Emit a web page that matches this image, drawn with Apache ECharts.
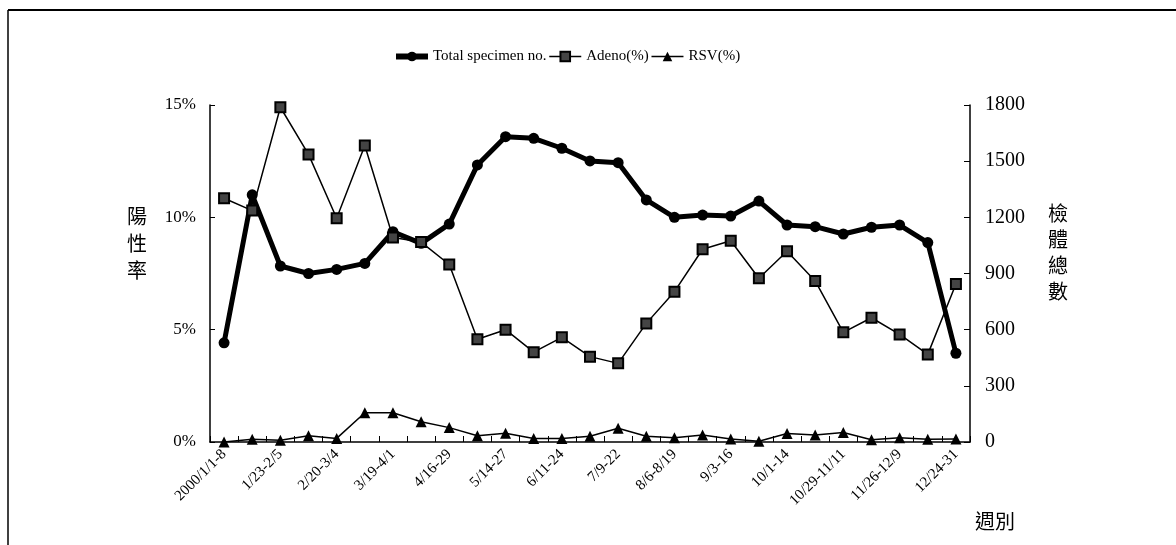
<!DOCTYPE html>
<html>
<head>
<meta charset="utf-8">
<script src="https://cdn.jsdelivr.net/npm/echarts@6/dist/echarts.min.js"></script>
<style>
html,body{margin:0;padding:0;background:#fff;}
#chart{width:1176px;height:545px;}
</style>
</head>
<body>
<div id="chart"></div>
<script>
var categories = ['2000/1/1-8','1/9-22','1/23-2/5','2/6-19','2/20-3/4','3/5-18','3/19-4/1','4/2-15','4/16-29','4/30-5/13','5/14-27','5/28-6/10','6/11-24','6/25-7/8','7/9-22','7/23-8/5','8/6-8/19','8/20-9/2','9/3-16','9/17-30','10/1-14','10/15-28','10/29-11/11','11/12-25','11/26-12/9','12/10-23','12/24-31'];
var totalSpecimen = [530,1320,940,900,922,954,1123,1061,1164,1480,1631,1622,1569,1501,1492,1293,1200,1212,1207,1287,1159,1150,1111,1147,1159,1065,474];
var adenoPct = [10.85,10.3,14.9,12.8,9.96,13.2,9.1,8.9,7.9,4.57,5.0,4.0,4.66,3.8,3.5,5.28,6.69,8.58,8.96,7.29,8.49,7.17,4.88,5.53,4.79,3.9,7.03];
var rsvPct = [0,0.12,0.08,0.28,0.16,1.3,1.3,0.9,0.64,0.28,0.39,0.16,0.16,0.26,0.61,0.26,0.19,0.31,0.13,0.03,0.38,0.31,0.42,0.1,0.19,0.12,0.13];
var leftTicks = [0,5,10,15];
var rightTicks = [0,300,600,900,1200,1500,1800];

var serif = '"Liberation Serif","Times New Roman",serif';
var cjk = '"Noto Sans CJK TC","Noto Sans CJK SC",sans-serif';

var chart = echarts.init(document.getElementById('chart'), null, {renderer:'canvas'});
chart.setOption({
  backgroundColor:'#fff',
  animation:false,
  legend:{
    left:388, top:44,
    itemWidth:32, itemHeight:12, itemGap:2,
    textStyle:{fontFamily:serif, fontSize:15, color:'#000'},
    data:[
      {name:'Total specimen no.', itemStyle:{color:'#000'}, lineStyle:{width:6, color:'#000'}},
      {name:'Adeno(%)', lineStyle:{width:1.5, color:'#000'}},
      {name:'RSV(%)', lineStyle:{width:1.5, color:'#000'}}
    ]
  },
  grid:{left:210, right:206, top:105, bottom:103, containLabel:false},
  xAxis:{
    type:'category',
    data:categories,
    boundaryGap:true,
    axisLine:{lineStyle:{color:'#000', width:1.5}},
    axisTick:{show:true, inside:true, length:6, interval:0, lineStyle:{color:'#000'}},
    axisLabel:{rotate:45, interval:1, margin:10, color:'#000', fontFamily:serif, fontSize:15},
    splitLine:{show:false}
  },
  yAxis:[
    {
      type:'value', min:leftTicks[0], max:leftTicks[leftTicks.length-1], interval:5,
      position:'left',
      axisLine:{show:true, lineStyle:{color:'#000', width:1.5}},
      axisTick:{show:true, inside:true, length:5, lineStyle:{color:'#000'}},
      axisLabel:{formatter:'{value}%', color:'#000', fontFamily:serif, fontSize:17, margin:14},
      splitLine:{show:false}
    },
    {
      type:'value', min:rightTicks[0], max:rightTicks[rightTicks.length-1], interval:300,
      position:'right',
      axisLine:{show:true, lineStyle:{color:'#000', width:1.5}},
      axisTick:{show:true, inside:true, length:6, lineStyle:{color:'#000'}},
      axisLabel:{formatter:function(v){return String(v);}, color:'#000', fontFamily:serif, fontSize:20, margin:15},
      splitLine:{show:false}
    }
  ],
  series:[
    {
      name:'Total specimen no.', type:'line', yAxisIndex:1, data:totalSpecimen,
      symbol:'circle', symbolSize:11,
      lineStyle:{color:'#000', width:5},
      itemStyle:{color:'#000'}
    },
    {
      name:'Adeno(%)', type:'line', yAxisIndex:0, data:adenoPct,
      symbol:'rect', symbolSize:10,
      lineStyle:{color:'#000', width:1.5},
      itemStyle:{color:'#444', borderColor:'#000', borderWidth:2}
    },
    {
      name:'RSV(%)', type:'line', yAxisIndex:0, data:rsvPct,
      symbol:'triangle', symbolSize:11,
      lineStyle:{color:'#000', width:1.5},
      itemStyle:{color:'#000'}
    }
  ],
  graphic:[
    {type:'line', shape:{x1:8, y1:10, x2:1176, y2:10}, style:{stroke:'#000', lineWidth:2}},
    {type:'line', shape:{x1:8, y1:10, x2:8, y2:545}, style:{stroke:'#000', lineWidth:1.5}},
    {type:'text', left:127, top:203, style:{text:'陽\n性\n率', font:'20px '+cjk, lineHeight:27, fill:'#000'}},
    {type:'text', left:1048, top:200, style:{text:'檢\n體\n總\n數', font:'20px '+cjk, lineHeight:26, fill:'#000'}},
    {type:'text', left:975, top:511, style:{text:'週別', font:'20px '+cjk, fill:'#000'}}
  ]
});
</script>
</body>
</html>
